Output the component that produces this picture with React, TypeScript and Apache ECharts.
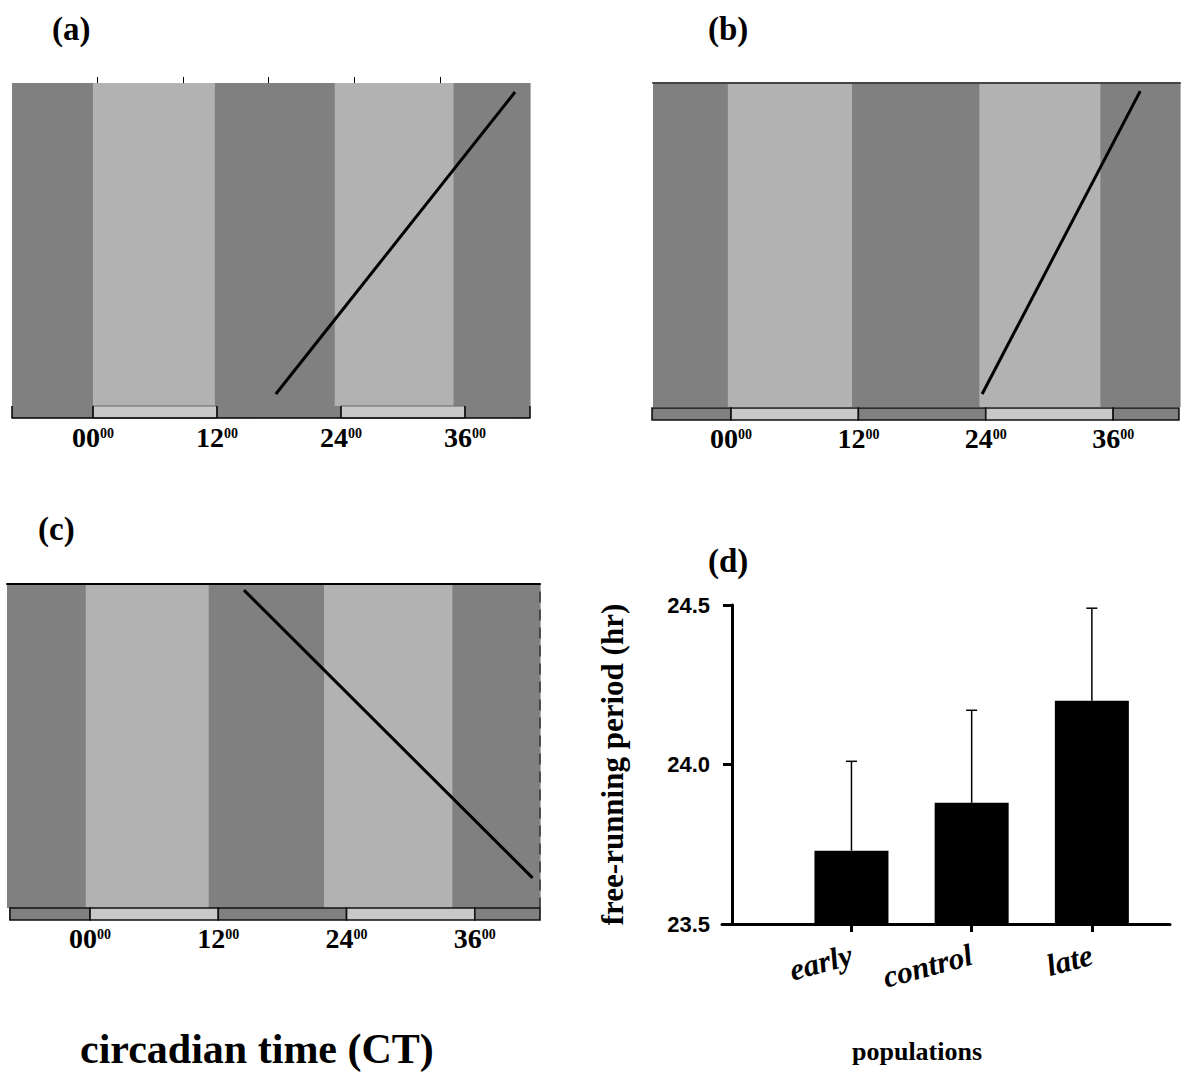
import React, { useEffect, useRef } from "react";
import * as echarts from "echarts";

// ---------- data ----------
const ctTicks = [0, 12, 24, 36];
const topTicksA = [0.4, 8.7, 17.0, 25.3, 33.6];

// x ranges (circadian hours) of the actogram panels
const rangeA = [-7.84, 42.3];
const rangeB = [-7.35, 42.3];
const rangeC = [-7.77, 42.1];

// background bands: [start CT, end CT, light(1)/dark(0)]
const bandsA = [[-7.84, 0, 0], [0, 11.8, 1], [11.8, 23.4, 0], [23.4, 34.9, 1], [34.9, 42.3, 0]];
const bandsB = [[-7.35, -0.3, 0], [-0.3, 11.4, 1], [11.4, 23.4, 0], [23.4, 34.8, 1], [34.8, 42.3, 0]];
const bandsC = [[-7.77, -0.4, 0], [-0.4, 11.1, 1], [11.1, 21.9, 0], [21.9, 33.9, 1], [33.9, 42.1, 0]];

// light/dark schedule bar segments: [start CT, end CT, light(1)/dark(0)]
const ldA = [[-7.84, 0, 0], [0, 12, 1], [12, 24, 0], [24, 36, 1], [36, 42.3, 0]];
const ldB = [[-7.44, 0, 0], [0, 12, 1], [12, 24, 0], [24, 36, 1], [36, 42.2, 0]];
const ldC = [[-7.5, 0, 0], [0, 12, 1], [12, 24, 0], [24, 36, 1], [36, 42.1, 0]];

// activity onset lines: [CT, day position (0 bottom .. 100 top)]
const onsetA = [[17.7, 3.7], [40.85, 97.2]];
const onsetB = [[23.66, 4.0], [38.55, 97.5]];
const onsetC = [[14.4, 98.1], [41.4, 9.3]];

// panel (d)
const populations = ["early", "control", "late"];
const periodMean = [23.73, 23.88, 24.2];
const periodUpper = [24.01, 24.17, 24.49];

// ---------- styles ----------
const DARK = "#808080";
const LIGHT = "#b2b2b2";
const BAR_LIGHT = "#c8c8c8";
const SERIF = "'Liberation Serif', 'Times New Roman', serif";
const SANS = "'Liberation Sans', Arial, sans-serif";

const bandSeries = (data: number[][], idx: number) => ({
  type: "custom",
  xAxisIndex: idx,
  yAxisIndex: idx,
  data,
  z: 1,
  silent: true,
  renderItem: (_p: any, api: any) => {
    const s = api.coord([api.value(0), 100]);
    const e = api.coord([api.value(1), 0]);
    return {
      type: "rect",
      shape: { x: s[0], y: s[1], width: e[0] - s[0] + 0.6, height: e[1] - s[1] },
      style: { fill: api.value(2) ? LIGHT : DARK },
    };
  },
});

const ldSeries = (data: number[][], idx: number, outlined: boolean) => ({
  type: "custom",
  xAxisIndex: idx,
  yAxisIndex: idx,
  data,
  z: 3,
  silent: true,
  renderItem: (_p: any, api: any) => {
    const s = api.coord([api.value(0), 1]);
    const e = api.coord([api.value(1), 0]);
    const light = api.value(2) === 1;
    const style: any = { fill: light ? BAR_LIGHT : DARK };
    if (outlined) {
      style.stroke = "#111";
      style.lineWidth = 1.6;
    } else if (light) {
      style.stroke = "#666";
      style.lineWidth = 1;
    }
    return {
      type: "rect",
      shape: { x: s[0], y: s[1], width: e[0] - s[0], height: e[1] - s[1] },
      style,
    };
  },
});

const lineSeries = (data: number[][], idx: number) => ({
  type: "line",
  xAxisIndex: idx,
  yAxisIndex: idx,
  data,
  symbol: "none",
  z: 5,
  lineStyle: { color: "#000", width: 3 },
});

const ctLabel = (margin: number) => ({
  show: true,
  customValues: ctTicks,
  margin,
  formatter: (v: number) => `{a|${String(v).padStart(2, "0")}}{b|00}`,
  rich: {
    a: { fontFamily: SERIF, fontWeight: "bold", fontSize: 28, color: "#000", lineHeight: 26 },
    b: { fontFamily: SERIF, fontWeight: "bold", fontSize: 14, color: "#000", verticalAlign: "top", lineHeight: 14, padding: [2, 0, 0, 0] },
  },
});

const hiddenY = (grid: number, max: number) => ({
  type: "value",
  gridIndex: grid,
  min: 0,
  max,
  show: false,
});

export default function App() {
  const ref = useRef<HTMLDivElement>(null);

  useEffect(() => {
    if (!ref.current) return;
    const chart = echarts.init(ref.current, null, { renderer: "svg" });

    const option: any = {
      animation: false,
      backgroundColor: "#fff",
      grid: [
        { left: 12, top: 83, width: 518, height: 323 }, // 0 A plot
        { left: 12, top: 406, width: 518, height: 12 }, // 1 A bar
        { left: 653, top: 83, width: 527, height: 324 }, // 2 B plot
        { left: 653, top: 408, width: 527, height: 12 }, // 3 B bar
        { left: 7, top: 584, width: 533, height: 324 }, // 4 C plot
        { left: 7, top: 908, width: 533, height: 12 }, // 5 C bar
        { left: 722, top: 605, width: 448, height: 319 }, // 6 D
      ],
      xAxis: [
        {
          type: "value", gridIndex: 0, min: rangeA[0], max: rangeA[1], position: "top", z: 10,
          axisLine: { show: false, onZero: false }, splitLine: { show: false }, axisLabel: { show: false },
          axisTick: { show: true, customValues: topTicksA, length: 6, lineStyle: { color: "#000", width: 1 } },
        },
        {
          type: "value", gridIndex: 1, min: rangeA[0], max: rangeA[1], position: "bottom", z: 10,
          axisLine: { show: true, onZero: false, lineStyle: { color: "#000", width: 1.5 } }, splitLine: { show: false },
          axisTick: { show: true, inside: true, length: 12, customValues: [rangeA[0], ...ctTicks, rangeA[1]], lineStyle: { color: "#000", width: 1.5 } },
          axisLabel: ctLabel(6),
        },
        {
          type: "value", gridIndex: 2, min: rangeB[0], max: rangeB[1], position: "top", z: 10,
          axisLine: { show: true, onZero: false, lineStyle: { color: "#444", width: 2 } }, splitLine: { show: false },
          axisTick: { show: false }, axisLabel: { show: false },
        },
        {
          type: "value", gridIndex: 3, min: rangeB[0], max: rangeB[1], position: "bottom",
          axisLine: { show: false, onZero: false }, splitLine: { show: false }, axisTick: { show: false },
          axisLabel: ctLabel(5),
        },
        {
          type: "value", gridIndex: 4, min: rangeC[0], max: rangeC[1], position: "top", z: 10,
          axisLine: { show: true, onZero: false, lineStyle: { color: "#000", width: 2 } }, splitLine: { show: false },
          axisTick: { show: false }, axisLabel: { show: false },
        },
        {
          type: "value", gridIndex: 5, min: rangeC[0], max: rangeC[1], position: "bottom",
          axisLine: { show: false, onZero: false }, splitLine: { show: false }, axisTick: { show: false },
          axisLabel: ctLabel(5),
        },
        {
          type: "value", gridIndex: 6, min: -0.077, max: 3.65, position: "bottom", z: 10,
          axisLine: { show: true, onZero: false, lineStyle: { color: "#000", width: 3 } }, splitLine: { show: false },
          axisTick: { show: true, customValues: [1, 2, 3], length: 8, lineStyle: { color: "#000", width: 3 } },
          axisLabel: {
            show: true, customValues: [1, 2, 3], rotate: 15, margin: 30,
            formatter: (v: number) => populations[Math.round(v) - 1],
            fontFamily: SERIF, fontWeight: "bold", fontStyle: "italic", fontSize: 31, color: "#000",
          },
        },
      ],
      yAxis: [
        hiddenY(0, 100),
        hiddenY(1, 1),
        hiddenY(2, 100),
        hiddenY(3, 1),
        {
          type: "value", gridIndex: 4, min: 0, max: 100, position: "right", z: 10,
          axisLine: { show: true, onZero: false, lineStyle: { color: "#333", width: 1.5, type: [10, 8] } },
          axisTick: { show: false }, axisLabel: { show: false }, splitLine: { show: false },
        },
        hiddenY(5, 1),
        {
          type: "value", gridIndex: 6, min: 23.5, max: 24.5, interval: 0.5, offset: -10, z: 10,
          axisLine: { show: true, onZero: false, lineStyle: { color: "#000", width: 3 } }, splitLine: { show: false },
          axisTick: { show: true, length: 9, lineStyle: { color: "#000", width: 3 } },
          axisLabel: {
            margin: 22, formatter: (v: number) => v.toFixed(1),
            fontFamily: SANS, fontWeight: "bold", fontSize: 22, color: "#000",
          },
          name: "free-running period (hr)", nameLocation: "middle", nameGap: 104, nameRotate: 90,
          nameTextStyle: { fontFamily: SERIF, fontWeight: "bold", fontSize: 31, color: "#000" },
        },
      ],
      series: [
        bandSeries(bandsA, 0),
        ldSeries(ldA, 1, false),
        lineSeries(onsetA, 0),
        bandSeries(bandsB, 2),
        ldSeries(ldB, 3, true),
        lineSeries(onsetB, 2),
        bandSeries(bandsC, 4),
        ldSeries(ldC, 5, true),
        lineSeries(onsetC, 4),
        {
          type: "bar",
          xAxisIndex: 6,
          yAxisIndex: 6,
          barWidth: 74,
          data: periodMean.map((v, i) => [i + 1, v]),
          itemStyle: { color: "#000" },
        },
        {
          type: "custom",
          xAxisIndex: 6,
          yAxisIndex: 6,
          z: 4,
          data: periodMean.map((v, i) => [i + 1, v, periodUpper[i]]),
          renderItem: (_p: any, api: any) => {
            const b = api.coord([api.value(0), api.value(1)]);
            const t = api.coord([api.value(0), api.value(2)]);
            return {
              type: "group",
              children: [
                { type: "line", shape: { x1: b[0], y1: b[1], x2: t[0], y2: t[1] }, style: { stroke: "#000", lineWidth: 1.5 } },
                { type: "line", shape: { x1: t[0] - 5.5, y1: t[1], x2: t[0] + 5.5, y2: t[1] }, style: { stroke: "#000", lineWidth: 1.5 } },
              ],
            };
          },
        },
      ],
      graphic: [
        { type: "text", left: 52, top: 12, style: { text: "(a)", font: `bold 33px ${SERIF}`, fill: "#000" } },
        { type: "text", left: 708, top: 12, style: { text: "(b)", font: `bold 33px ${SERIF}`, fill: "#000" } },
        { type: "text", left: 38, top: 512, style: { text: "(c)", font: `bold 33px ${SERIF}`, fill: "#000" } },
        { type: "text", left: 708, top: 544, style: { text: "(d)", font: `bold 33px ${SERIF}`, fill: "#000" } },
        { type: "text", left: 80, top: 1028, style: { text: "circadian time (CT)", font: `bold 42px ${SERIF}`, fill: "#000" } },
        { type: "text", left: 852, top: 1038, style: { text: "populations", font: `bold 26px ${SERIF}`, fill: "#000" } },
      ],
    };

    chart.setOption(option);
    return () => chart.dispose();
  }, []);

  return (
    <div
      ref={ref}
      style={{ position: "absolute", left: 0, top: 0, width: 1185, height: 1080, background: "#fff" }}
    />
  );
}
